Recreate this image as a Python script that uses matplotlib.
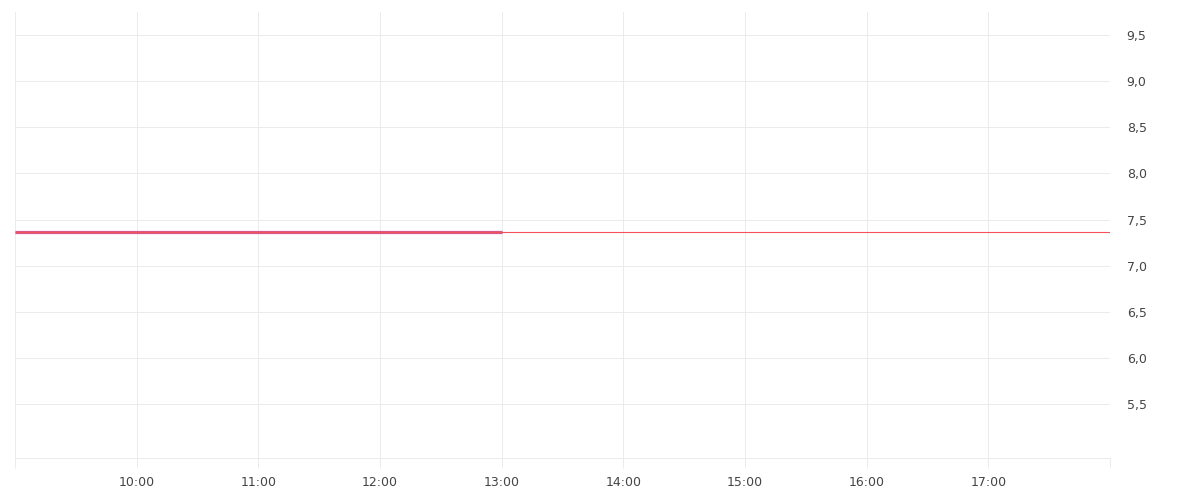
import matplotlib
matplotlib.use("Agg")
import matplotlib.pyplot as plt
import matplotlib.dates as mdates
from matplotlib.ticker import FixedLocator, FuncFormatter
from datetime import datetime

# --- data ---
day = "2024-01-02"
price_times = ["09:00", "13:00"]
price_values = [7.37, 7.37]
reference_times = ["09:00", "18:00"]
reference_values = [7.37, 7.37]
hour_ticks = ["09:00", "10:00", "11:00", "12:00", "13:00", "14:00",
              "15:00", "16:00", "17:00", "18:00"]
y_ticks = [5.5, 6.0, 6.5, 7.0, 7.5, 8.0, 8.5, 9.0, 9.5]
y_range = [4.915, 9.75]

def to_dt(t):
    return datetime.strptime(f"{day} {t}", "%Y-%m-%d %H:%M")

plt.rcParams['font.family'] = ['DejaVu Sans']
fig = plt.figure(figsize=(12, 5), dpi=100)
ax = fig.add_axes([15/1200, 1 - 458/500, (1110 - 15)/1200, (458 - 12)/500])

grid_c = "#ebebeb"
px = 72 / 100

ax.plot([to_dt(t) for t in price_times], price_values, color="#d5598e",
        lw=3.2 * px, solid_capstyle="butt", zorder=3)
ax.plot([to_dt(t) for t in reference_times], reference_values, color="#f4515c",
        lw=1.1 * px, solid_capstyle="butt", zorder=4)

ax.set_xlim(to_dt(hour_ticks[0]), to_dt(hour_ticks[-1]))
ax.set_ylim(*y_range)

xt = [mdates.date2num(to_dt(t)) for t in hour_ticks]
ax.xaxis.set_major_locator(FixedLocator(xt))
first, last = xt[0], xt[-1]
ax.xaxis.set_major_formatter(FuncFormatter(
    lambda v, p: "" if (abs(v - first) < 1e-6 or abs(v - last) < 1e-6) else mdates.num2date(v).strftime("%H:%M")))

ax.yaxis.set_major_locator(FixedLocator(y_ticks))
ax.yaxis.set_major_formatter(FuncFormatter(lambda v, p: f"{v:.1f}".replace(".", ",")))
ax.yaxis.tick_right()

ax.grid(True, color=grid_c, lw=1 * px)
ax.set_axisbelow(True)
for s in ["top", "left", "right"]:
    ax.spines[s].set_visible(False)
ax.spines["bottom"].set_color(grid_c)
ax.spines["bottom"].set_linewidth(1 * px)

ax.tick_params(axis="x", direction="out", length=10 * px, width=1 * px, color=grid_c,
               labelsize=9, labelcolor="#444444", pad=6)
ax.tick_params(axis="y", length=0, labelsize=9, labelcolor="#444444", pad=12)
for lab in ax.get_yticklabels():
    lab.set_verticalalignment("center_baseline")

fig.savefig("out.png", dpi=100, facecolor="white")
